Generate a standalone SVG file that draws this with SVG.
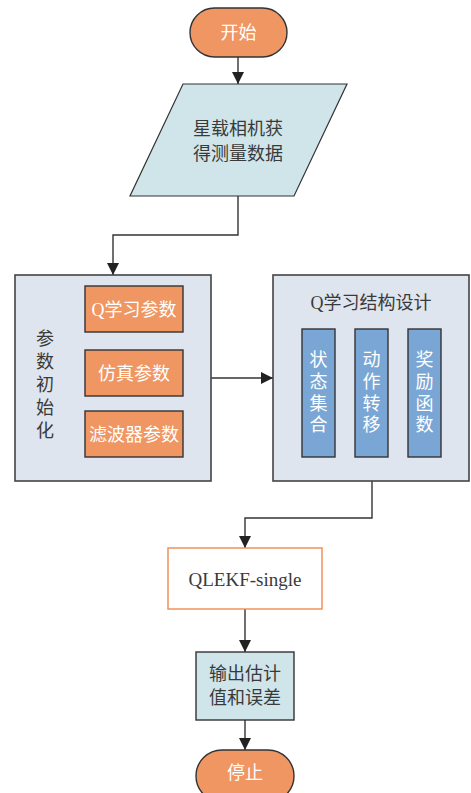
<svg xmlns="http://www.w3.org/2000/svg" width="471" height="793" viewBox="0 0 471 793">
  <style>
    .edge { fill: none; stroke: #333333; stroke-width: 1.4; }
    .term { fill: #ef9663; stroke: #333333; stroke-width: 1.4; }
    .data { fill: #cfe5ea; stroke: #333333; stroke-width: 1.2; }
    .group { fill: #dfe5ee; stroke: #444444; stroke-width: 1.6; }
    .param { fill: #ef9663; stroke: #333333; stroke-width: 1.4; }
    .col { fill: #79a6d5; stroke: #333333; stroke-width: 1.4; }
    .proc { fill: #ffffff; stroke: #ef8a4f; stroke-width: 1.4; }
    .out { fill: #cfe5ea; stroke: #333333; stroke-width: 1.4; }
    text { font-family: "Liberation Serif", "Noto Sans CJK SC", serif; text-anchor: middle; dominant-baseline: central; }
    .dark { fill: #3a3a3a; font-size: 18px; }
    .light { fill: #ffffff; font-size: 18px; }
  </style>
  <defs>
    <marker id="arrow" viewBox="0 0 12 12" refX="12" refY="6" markerWidth="12" markerHeight="12" markerUnits="userSpaceOnUse" orient="auto">
      <path d="M0,0 L12,6 L0,12 Z" fill="#222222"/>
    </marker>
  </defs>

  <!-- connectors -->
  <g id="connectors">
    <path class="edge" d="M238,57 V84" marker-end="url(#arrow)"/>
    <path class="edge" d="M238,196 V235 H113 V275" marker-end="url(#arrow)"/>
    <path class="edge" d="M211,378 H273" marker-end="url(#arrow)"/>
    <path class="edge" d="M372,481 V518 H245 V548" marker-end="url(#arrow)"/>
    <path class="edge" d="M245,609 V652" marker-end="url(#arrow)"/>
    <path class="edge" d="M245,720 V750" marker-end="url(#arrow)"/>
  </g>

  <!-- start -->
  <g id="start">
    <rect class="term" x="190" y="8" width="97" height="49" rx="24.5"/>
    <text class="light" x="238.5" y="33">开始</text>
  </g>

  <!-- input data -->
  <g id="input">
    <polygon class="data" points="183,84 347,84 294,196 130,196"/>
    <text class="dark" x="238" y="129">星载相机获</text>
    <text class="dark" x="238" y="154">得测量数据</text>
  </g>

  <!-- parameter initialisation group -->
  <g id="init">
    <rect class="group" x="15" y="275" width="196" height="206"/>
    <text class="dark" x="45" y="339">参</text>
    <text class="dark" x="45" y="362">数</text>
    <text class="dark" x="45" y="385">初</text>
    <text class="dark" x="45" y="408">始</text>
    <text class="dark" x="45" y="431">化</text>
    <g id="q-params">
      <rect class="param" x="85" y="286" width="98" height="46"/>
      <text class="light" x="134" y="310">Q学习参数</text>
    </g>
    <g id="sim-params">
      <rect class="param" x="85" y="350" width="98" height="46"/>
      <text class="light" x="134" y="374">仿真参数</text>
    </g>
    <g id="filter-params">
      <rect class="param" x="85" y="411" width="98" height="46"/>
      <text class="light" x="134" y="435">滤波器参数</text>
    </g>
  </g>

  <!-- Q-learning structure group -->
  <g id="qdesign">
    <rect class="group" x="273" y="275" width="196" height="206"/>
    <text class="dark" x="371" y="303">Q学习结构设计</text>
    <g id="states">
      <rect class="col" x="302" y="329" width="33" height="128"/>
      <text class="light" x="318.5" y="360">状</text>
      <text class="light" x="318.5" y="382">态</text>
      <text class="light" x="318.5" y="404">集</text>
      <text class="light" x="318.5" y="425">合</text>
    </g>
    <g id="actions">
      <rect class="col" x="355" y="329" width="33" height="128"/>
      <text class="light" x="371.5" y="360">动</text>
      <text class="light" x="371.5" y="382">作</text>
      <text class="light" x="371.5" y="404">转</text>
      <text class="light" x="371.5" y="425">移</text>
    </g>
    <g id="reward">
      <rect class="col" x="408" y="329" width="33" height="128"/>
      <text class="light" x="424.5" y="360">奖</text>
      <text class="light" x="424.5" y="382">励</text>
      <text class="light" x="424.5" y="404">函</text>
      <text class="light" x="424.5" y="425">数</text>
    </g>
  </g>

  <!-- filter -->
  <g id="qlekf">
    <rect class="proc" x="168" y="548" width="154" height="61"/>
    <text class="dark" x="245" y="579" style="font-size:19px">QLEKF-single</text>
  </g>

  <!-- output -->
  <g id="output">
    <rect class="out" x="196" y="652" width="98" height="68"/>
    <text class="dark" x="245" y="674">输出估计</text>
    <text class="dark" x="245" y="698">值和误差</text>
  </g>

  <!-- stop -->
  <g id="stop">
    <rect class="term" x="196" y="750" width="98" height="52" rx="26"/>
    <text class="light" x="245" y="773">停止</text>
  </g>
</svg>
